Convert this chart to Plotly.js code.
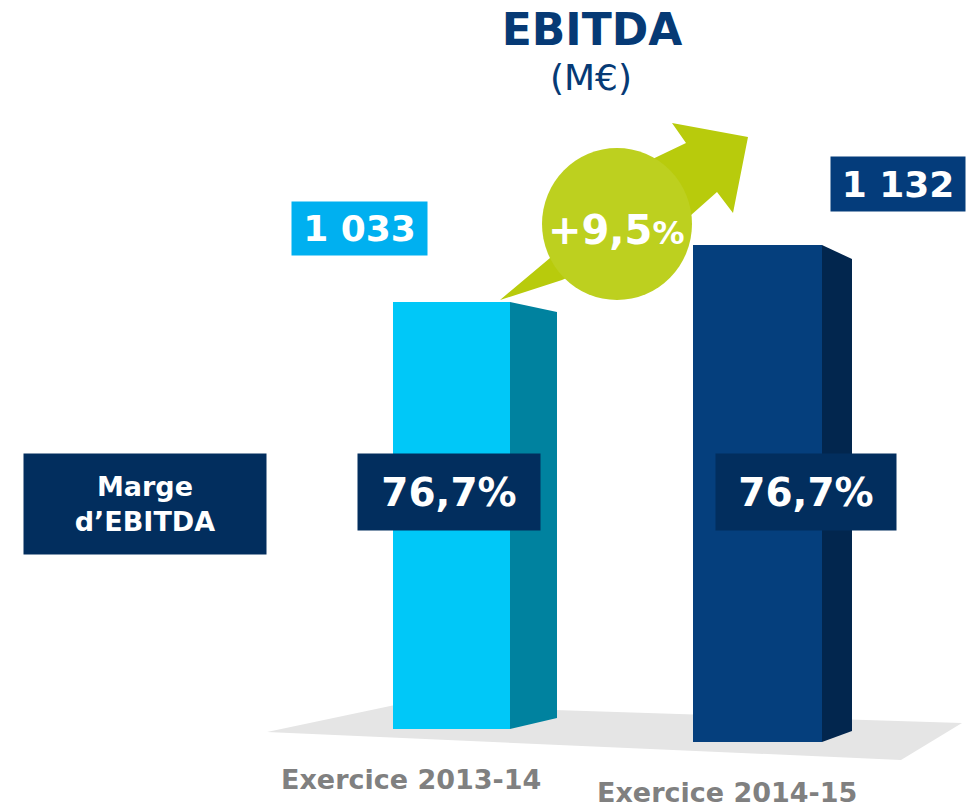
<!DOCTYPE html>
<html><head><meta charset="utf-8">
<script src="https://cdn.plot.ly/plotly-3.0.1.min.js"></script>
<style>html,body{margin:0;padding:0;background:#fff;} #chart{width:970px;height:807px;}</style>
</head><body><div id="chart"></div>
<script>
// ---- data ----
const categories = ["Exercice 2013-14", "Exercice 2014-15"];
const ebitda = [1033, 1132];
const ebitdaLabels = ["1 033", "1 132"];
const margeLabels = ["76,7%", "76,7%"];
const margeTitle = "Marge<br>d’EBITDA";
const growthValue = "+9,5";
const growthUnit = "%";
const chartTitle = "EBITDA";
const unitLabel = "(M€)";

// ---- geometry / styles ----
const W = 970, H = 807;
const Y_RANGE = [156, 1557.5];
const X_RANGE = [-1.4755, -1.4755 + 970 / 306];
const pxPerY = H / (Y_RANGE[1] - Y_RANGE[0]);
const pxPerX = W / (X_RANGE[1] - X_RANGE[0]);
const yFromPx = py => Y_RANGE[1] - py / pxPerY;
const fx = px => px / W, fy = py => 1 - py / H;
const FONT = "DejaVu Sans, Verdana, sans-serif";

const frontColors = ["#00C8F8", "#053F7D"];
const sideColors = ["#00829F", "#02264E"];
const frontWidthPx = [117, 129];
const floorPx = [729, 742];
const depthPx = [47, 30];
const topDropPx = [10, 14];
const bottomRisePx = [11, 11];

const idx = categories.map((c, i) => i);
const widths = frontWidthPx.map(w => w / pxPerX);
const bases = floorPx.map(yFromPx);

const traces = [];
traces.push({
  type: 'bar', x: idx, y: ebitda.map((v, i) => v - bases[i]), base: bases,
  width: widths, marker: {color: frontColors, line: {width: 0}},
  hoverinfo: 'skip', showlegend: false
});
ebitda.forEach((v, i) => {
  const xr = i + widths[i] / 2;
  const xs = xr + depthPx[i] / pxPerX;
  traces.push({
    type: 'scatter', mode: 'lines', fill: 'toself', fillcolor: sideColors[i],
    line: {width: 0, color: sideColors[i]},
    x: [xr, xs, xs, xr, xr],
    y: [v, v - topDropPx[i] / pxPerY, bases[i] + bottomRisePx[i] / pxPerY, bases[i], v],
    hoverinfo: 'skip', showlegend: false
  });
});

function pathPx(pts) {
  return 'M' + pts.map(p => fx(p[0]) + ',' + fy(p[1])).join(' L') + ' Z';
}

const shapes = [
  {type: 'path', xref: 'paper', yref: 'paper', layer: 'below',
   path: pathPx([[267, 732], [395, 705], [962, 723], [901, 760]]),
   fillcolor: '#E5E5E5', line: {width: 0}},
  {type: 'path', xref: 'paper', yref: 'paper', layer: 'below',
   path: pathPx([[500, 300], [550, 258], [640, 165], [686, 143], [672, 123], [748, 137], [733, 213], [717, 192], [672, 232], [562, 280]]),
   fillcolor: '#B8CB0C', line: {width: 0}},
  {type: 'circle', xref: 'paper', yref: 'paper', layer: 'above',
   x0: fx(542), x1: fx(692), y0: fy(300), y1: fy(148),
   fillcolor: '#BDD01F', line: {width: 0}}
];

function box(text, cx, cy, w, h, bg, size) {
  return {xref: 'paper', yref: 'paper', x: fx(cx), y: fy(cy), xanchor: 'center', yanchor: 'middle',
    text: text, showarrow: false, width: w, height: h, bgcolor: bg, borderpad: 0,
    align: 'center', valign: 'middle',
    font: {family: FONT, size: size, color: '#FFFFFF', weight: 'bold'}};
}

const annotations = [
  box(ebitdaLabels[0], 359.5, 228.5, 135, 53, '#00B0F0', 36),
  box(ebitdaLabels[1], 898, 184, 134, 54, '#043C7B', 36),
  box(margeTitle, 145, 504, 242, 100, '#022E5E', 27),
  box(margeLabels[0], 449, 492, 182, 76, '#022E5E', 39),
  box(margeLabels[1], 806, 492, 180, 76, '#022E5E', 39),
  {xref: 'paper', yref: 'paper', x: fx(616), y: fy(230), xanchor: 'center', yanchor: 'middle',
   showarrow: false, text: growthValue + "<span style='font-size:32px'>" + growthUnit + "</span>",
   font: {family: FONT, size: 40, color: '#FFFFFF', weight: 'bold'}},
  {xref: 'paper', yref: 'paper', x: fx(591), y: fy(78), xanchor: 'center', yanchor: 'middle',
   showarrow: false, text: unitLabel, font: {family: FONT, size: 36, color: '#063A75'}},
  {xref: 'paper', yref: 'paper', x: fx(411), y: fy(779), xanchor: 'center', yanchor: 'middle',
   showarrow: false, text: categories[0], font: {family: FONT, size: 27, color: '#808080', weight: 'bold'}},
  {xref: 'paper', yref: 'paper', x: fx(727), y: fy(792), xanchor: 'center', yanchor: 'middle',
   showarrow: false, text: categories[1], font: {family: FONT, size: 27, color: '#808080', weight: 'bold'}}
];

const layout = {
  width: W, height: H, margin: {l: 0, r: 0, t: 0, b: 0, pad: 0},
  paper_bgcolor: '#FFFFFF', plot_bgcolor: '#FFFFFF',
  title: {text: chartTitle, x: fx(592), xanchor: 'center', xref: 'paper', yref: 'container', y: fy(30), yanchor: 'middle',
          font: {family: FONT, size: 44, color: '#063A75', weight: 'bold'}},
  xaxis: {range: X_RANGE, visible: false, fixedrange: true},
  yaxis: {range: Y_RANGE, visible: false, fixedrange: true},
  showlegend: false, hovermode: false, bargap: 0,
  shapes: shapes, annotations: annotations
};

Plotly.newPlot('chart', traces, layout, {displayModeBar: false, staticPlot: true});
</script>
</body></html>
